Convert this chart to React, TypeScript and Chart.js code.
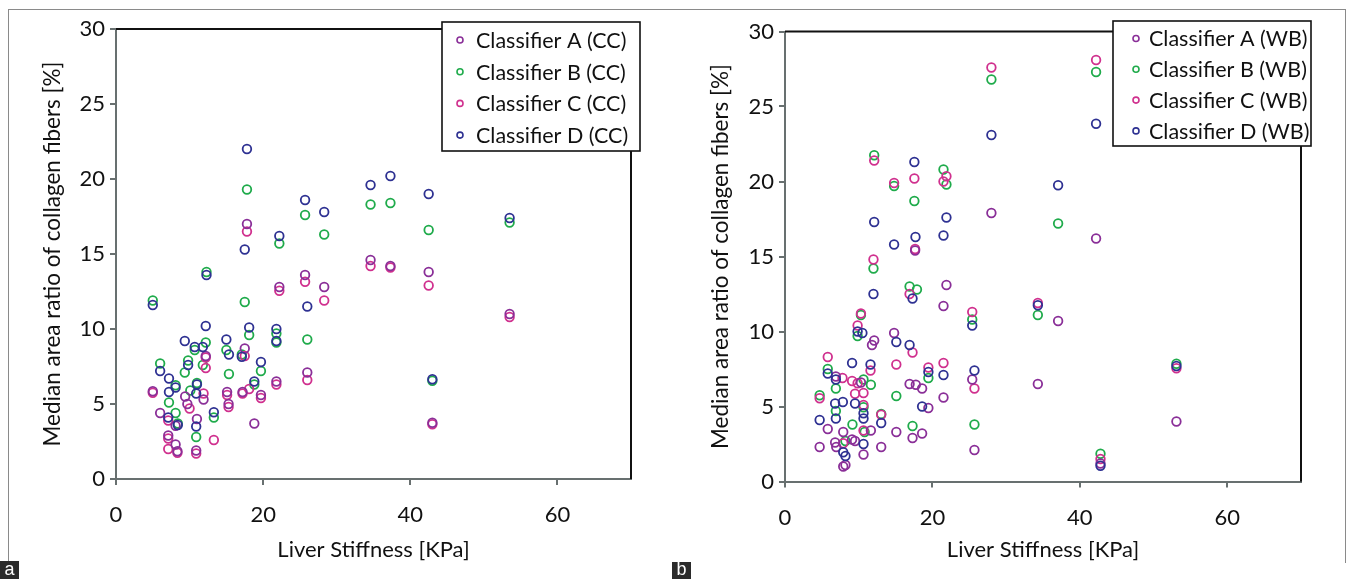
import React, { useEffect, useRef } from 'react';
import { Chart, registerables } from 'chart.js';

Chart.register(...registerables);

// ---------- data ----------
const seriesNames = ['Classifier A', 'Classifier B', 'Classifier C', 'Classifier D'];
const seriesColors = ['#8a2f98', '#1fab4b', '#d0308e', '#2e3192'];
const drawOrder = [1, 3, 2, 0];
const xTicks = [0, 20, 40, 60];
const xTitle = 'Liver Stiffness [KPa]';
const yTitle = 'Median area ratio of collagen fibers [%]';

// Panel a (CC)
const ccAx = [5.0, 6.0, 7.1, 8.1, 8.1, 8.35, 9.4, 9.7, 10.9, 11.0, 11.9, 12.2, 15.1, 15.3, 17.2, 17.5, 17.8, 18.8, 19.7, 21.8, 22.2, 25.7, 26.0, 28.3, 34.6, 37.3, 42.5, 43.0, 53.5];
const ccAy = [5.85, 4.4, 2.9, 2.3, 3.55, 1.85, 5.5, 5.0, 1.9, 4.0, 5.3, 8.2, 5.8, 5.0, 5.8, 8.7, 17.0, 3.7, 5.6, 6.5, 12.8, 13.6, 7.1, 12.8, 14.6, 14.2, 13.8, 3.75, 11.0];
const ccBx = [5.0, 6.0, 7.2, 8.1, 8.1, 8.4, 9.35, 9.8, 10.1, 10.7, 10.9, 11.0, 11.8, 12.2, 12.3, 13.3, 15.0, 15.35, 17.1, 17.5, 17.8, 18.1, 18.8, 19.7, 21.8, 21.8, 22.2, 25.7, 26.0, 28.3, 34.6, 37.3, 42.5, 43.0, 53.5];
const ccBy = [11.9, 7.7, 5.1, 6.25, 4.4, 3.7, 7.1, 7.9, 5.9, 8.6, 2.8, 6.4, 7.6, 9.1, 13.8, 4.1, 8.6, 7.0, 8.3, 11.8, 19.3, 9.6, 6.3, 7.2, 9.7, 9.1, 15.7, 17.6, 9.3, 16.3, 18.3, 18.4, 16.6, 6.55, 17.1];
const ccCx = [5.0, 7.1, 7.1, 7.1, 8.35, 10.0, 10.9, 11.9, 12.2, 12.2, 13.3, 15.1, 15.3, 17.2, 17.5, 17.8, 18.1, 19.7, 21.8, 22.2, 25.7, 26.0, 28.3, 34.6, 37.3, 42.5, 43.0, 53.5];
const ccCy = [5.75, 3.9, 2.7, 2.0, 1.75, 4.7, 1.7, 5.7, 7.4, 8.1, 2.6, 5.6, 4.8, 5.7, 8.2, 16.5, 6.0, 5.4, 6.3, 12.55, 13.15, 6.6, 11.9, 14.2, 14.1, 12.9, 3.65, 10.8];
const ccDx = [5.0, 6.0, 7.2, 7.2, 7.1, 8.1, 8.4, 9.35, 9.8, 10.7, 10.9, 10.9, 11.0, 11.8, 12.2, 12.3, 13.3, 15.0, 15.35, 17.1, 17.5, 17.8, 18.1, 18.8, 19.7, 21.8, 21.8, 22.2, 25.7, 26.0, 28.3, 34.6, 37.3, 42.5, 43.0, 53.5];
const ccDy = [11.6, 7.2, 6.7, 5.8, 4.1, 6.1, 3.6, 9.2, 7.6, 8.8, 5.7, 3.5, 6.3, 8.8, 10.2, 13.6, 4.45, 9.3, 8.3, 8.15, 15.3, 22.0, 10.1, 6.5, 7.8, 10.0, 9.2, 16.2, 18.6, 11.5, 17.8, 19.6, 20.2, 19.0, 6.65, 17.4];

// Panel b (WB)
const wbAx = [4.7, 5.8, 6.8, 6.95, 6.9, 7.9, 7.9, 8.2, 9.1, 9.5, 10.3, 10.65, 11.65, 11.8, 12.1, 13.05, 14.8, 15.1, 16.9, 17.3, 17.65, 17.75, 18.6, 18.6, 19.45, 21.5, 21.5, 21.9, 25.4, 25.7, 28.0, 34.3, 37.05, 42.2, 42.8, 53.1];
const wbAy = [2.3, 3.5, 2.6, 2.3, 7.0, 3.3, 1.0, 1.1, 2.8, 2.7, 6.6, 1.8, 3.4, 9.1, 9.4, 2.3, 9.9, 3.3, 6.5, 2.9, 15.4, 6.45, 6.2, 3.2, 4.9, 11.7, 5.6, 13.1, 6.8, 2.1, 17.9, 6.5, 10.7, 16.2, 1.2, 4.0];
const wbBx = [4.7, 5.8, 6.9, 6.9, 8.2, 9.15, 9.85, 10.3, 10.65, 10.65, 10.8, 11.65, 12.0, 12.1, 13.05, 14.8, 15.1, 16.9, 17.3, 17.55, 17.9, 19.45, 21.5, 21.9, 25.4, 25.7, 28.0, 34.3, 37.05, 42.2, 42.8, 53.1];
const wbBy = [5.75, 7.5, 6.2, 4.7, 2.7, 3.8, 9.7, 11.1, 6.8, 4.95, 3.3, 6.45, 14.2, 21.75, 4.5, 19.7, 5.7, 13.0, 3.7, 18.7, 12.8, 6.9, 20.8, 19.8, 10.8, 3.8, 26.8, 11.1, 17.2, 27.3, 1.85, 7.85];
const wbCx = [4.7, 5.8, 7.8, 7.9, 9.1, 9.5, 9.85, 9.85, 10.3, 10.65, 10.65, 10.65, 11.6, 12.0, 12.1, 13.05, 14.8, 15.1, 16.9, 17.3, 17.55, 17.65, 19.45, 21.5, 21.5, 21.9, 25.4, 25.7, 28.0, 34.3, 42.2, 42.8, 53.1];
const wbCy = [5.55, 8.3, 6.9, 2.55, 6.7, 5.85, 10.4, 6.55, 11.2, 5.9, 5.1, 3.4, 7.4, 14.8, 21.4, 4.45, 19.9, 7.8, 12.5, 8.6, 20.2, 15.5, 7.6, 20.0, 7.9, 20.35, 11.3, 6.2, 27.6, 11.9, 28.1, 1.5, 7.55];
const wbDx = [4.7, 5.8, 6.9, 6.8, 6.9, 7.85, 7.9, 8.2, 9.1, 9.5, 9.85, 10.5, 10.65, 10.65, 10.65, 11.6, 12.0, 12.1, 13.05, 14.8, 15.1, 16.9, 17.3, 17.55, 17.7, 18.6, 19.45, 21.5, 21.5, 21.9, 25.4, 25.7, 28.0, 34.3, 37.05, 42.2, 42.8, 53.1];
const wbDy = [4.1, 7.2, 6.8, 5.2, 4.2, 5.3, 1.95, 1.7, 7.9, 5.2, 10.0, 9.9, 4.55, 4.2, 2.5, 7.8, 12.5, 17.3, 3.9, 15.8, 9.3, 9.1, 12.2, 21.3, 16.3, 5.0, 7.3, 16.4, 7.1, 17.6, 10.4, 7.4, 23.1, 11.75, 19.75, 23.85, 1.05, 7.7];

// ---------- styling ----------
const FONT = 'Lato, "Open Sans", "DejaVu Sans", sans-serif';
const TEXT = '#111111';
const AXIS_GRAY = '#687070';

type Panel = {
  tag: string;
  xs: number[][];
  ys: number[][];
  left: number;
  width: number;
  padTop: number;
  padRight: number;
  yAxisW: number;
  xAxisH: number;
  yTitlePad: number;
  legend: { x: number; y: number; w: number; h: number; mx: number; tx: number; row0: number; step: number };
};

const panels: Panel[] = [
  {
    tag: 'CC',
    xs: [ccAx, ccBx, ccCx, ccDx],
    ys: [ccAy, ccBy, ccCy, ccDy],
    left: 0, width: 670, padTop: 29, padRight: 39, yAxisW: 116, xAxisH: 100, yTitlePad: 39,
    legend: { x: 442, y: 22, w: 198, h: 129, mx: 460, tx: 476, row0: 40, step: 31.7 },
  },
  {
    tag: 'WB',
    xs: [wbAx, wbBx, wbCx, wbDx],
    ys: [wbAy, wbBy, wbCy, wbDy],
    left: 670, width: 681, padTop: 31.5, padRight: 50, yAxisW: 115, xAxisH: 97.5, yTitlePad: 37,
    legend: { x: 443, y: 21, w: 198, h: 125, mx: 466, tx: 479, row0: 38.5, step: 30.8 },
  },
];

const framePlugin = {
  id: 'frameLegend',
  afterDraw(chart: any, _args: any, opts: any) {
    const { ctx, chartArea } = chart;
    const { left, right, top, bottom } = chartArea;
    ctx.save();
    ctx.strokeStyle = '#111';
    ctx.lineWidth = 2;
    ctx.beginPath();
    ctx.moveTo(left, top);
    ctx.lineTo(right, top);
    ctx.lineTo(right, bottom);
    ctx.stroke();
    const lg = opts.legend;
    if (lg) {
      ctx.fillStyle = '#fff';
      ctx.fillRect(lg.x, lg.y, lg.w, lg.h);
      ctx.strokeStyle = '#111';
      ctx.lineWidth = 1.6;
      ctx.strokeRect(lg.x, lg.y, lg.w, lg.h);
      ctx.font = `21.5px ${FONT}`;
      ctx.textBaseline = 'middle';
      ctx.textAlign = 'left';
      opts.labels.forEach((lab: string, i: number) => {
        const cy = lg.row0 + i * lg.step;
        ctx.beginPath();
        ctx.arc(lg.mx, cy, 3, 0, Math.PI * 2);
        ctx.strokeStyle = seriesColors[i];
        ctx.lineWidth = 1.6;
        ctx.stroke();
        ctx.fillStyle = TEXT;
        ctx.fillText(lab, lg.tx, cy + 1);
      });
    }
    ctx.restore();
  },
};

function buildConfig(p: Panel): any {
  const labels = seriesNames.map((n) => `${n} (${p.tag})`);
  return {
    type: 'scatter',
    data: {
      datasets: seriesNames.map((_, i) => ({
        label: labels[i],
        data: p.xs[i].map((x, j) => ({ x, y: p.ys[i][j] })),
        pointStyle: 'circle',
        pointRadius: 4.3,
        pointBorderWidth: 1.8,
        pointBackgroundColor: 'rgba(0,0,0,0)',
        pointBorderColor: seriesColors[i],
        borderColor: seriesColors[i],
        showLine: false,
        order: drawOrder[i],
      })),
    },
    options: {
      animation: false,
      responsive: false,
      maintainAspectRatio: false,
      events: [],
      layout: { padding: { left: 0, top: p.padTop, right: p.padRight, bottom: 0 } },
      plugins: {
        legend: { display: false },
        tooltip: { enabled: false },
        frameLegend: { legend: p.legend, labels },
      },
      scales: {
        x: {
          type: 'linear',
          min: 0,
          max: 70,
          afterBuildTicks: (ax: any) => {
            ax.ticks = xTicks.map((v) => ({ value: v }));
          },
          afterFit: (s: any) => {
            s.height = p.xAxisH;
          },
          grid: { display: true, drawOnChartArea: false, drawTicks: true, tickLength: 6, color: AXIS_GRAY, lineWidth: 2 },
          border: { display: true, color: AXIS_GRAY, width: 2 },
          ticks: { padding: 17, color: TEXT, font: { family: FONT, size: 22 }, maxRotation: 0 },
          title: { display: true, text: xTitle, color: TEXT, font: { family: FONT, size: 22 }, padding: { top: 0, bottom: 16 } },
        },
        y: {
          type: 'linear',
          min: 0,
          max: 30,
          ticks: { stepSize: 5, padding: 5, color: TEXT, font: { family: FONT, size: 22 } },
          afterFit: (s: any) => {
            s.width = p.yAxisW;
          },
          grid: { display: true, drawOnChartArea: false, drawTicks: true, tickLength: 6, color: AXIS_GRAY, lineWidth: 2 },
          border: { display: true, color: AXIS_GRAY, width: 2 },
          title: { display: true, text: yTitle, color: TEXT, font: { family: FONT, size: 22.5 }, padding: { top: p.yTitlePad, bottom: 0 } },
        },
      },
    },
    plugins: [framePlugin],
  };
}

function PanelChart({ p }: { p: Panel }) {
  const ref = useRef<HTMLCanvasElement | null>(null);
  useEffect(() => {
    if (!ref.current) return;
    const chart = new Chart(ref.current, buildConfig(p));
    return () => chart.destroy();
  }, [p]);
  return (
    <canvas
      ref={ref}
      width={p.width}
      height={579}
      style={{ position: 'absolute', left: p.left, top: 0, width: p.width, height: 579 }}
    />
  );
}

export default function App() {
  return (
    <div style={{ position: 'fixed', left: 0, top: 0, width: 1351, height: 579, background: '#fff', overflow: 'hidden' }}>
      {panels.map((p) => (
        <PanelChart key={p.tag} p={p} />
      ))}
      <div style={{ position: 'absolute', left: 8, top: 9, width: 1336, height: 553, borderTop: '1px solid #8a8a8a', borderLeft: '1px solid #8a8a8a', borderRight: '1px solid #8a8a8a' }} />
      <div style={{ position: 'absolute', left: 0, top: 561, width: 19, height: 18, background: '#2b2b2b', color: '#fff', font: '18px "Liberation Sans", Arial, sans-serif', lineHeight: '16px', textAlign: 'center' }}>a</div>
      <div style={{ position: 'absolute', left: 672, top: 562, width: 19, height: 17, background: '#2b2b2b', color: '#fff', font: '18px "Liberation Sans", Arial, sans-serif', lineHeight: '15px', textAlign: 'center' }}>b</div>
    </div>
  );
}
